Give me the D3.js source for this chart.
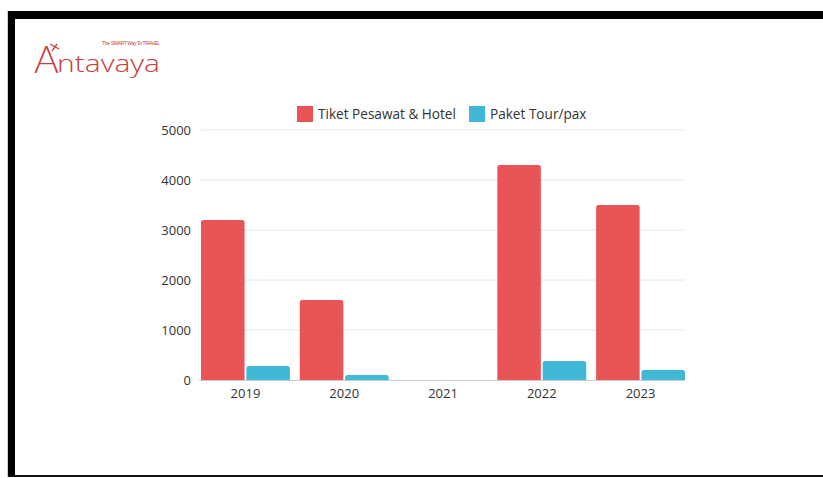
<!DOCTYPE html>
<html>
<head>
<meta charset="utf-8">
<script src="https://cdn.jsdelivr.net/npm/d3@7"></script>
<style>
  html, body { margin: 0; padding: 0; background: #fff; }
  svg { display: block; }
</style>
</head>
<body>
<svg id="chart" width="823" height="478"></svg>
<script>
const categories = ["2019", "2020", "2021", "2022", "2023"];
const seriesNames = ["Tiket Pesawat & Hotel", "Paket Tour/pax"];
const tiketPesawatHotel = [3200, 1600, 0, 4300, 3500];
const paketTour = [280, 100, 0, 380, 200];
const yTicks = [0, 1000, 2000, 3000, 4000, 5000];
const colors = ["#e95556", "#41b8d6"];

const svg = d3.select("#chart");

// frame
svg.append("rect").attr("x", 7).attr("y", 11).attr("width", 1).attr("height", 466).attr("fill", "#cfcfcf");
svg.append("rect").attr("x", 8).attr("y", 11).attr("width", 815).attr("height", 8).attr("fill", "#000");
svg.append("rect").attr("x", 8).attr("y", 11).attr("width", 7).attr("height", 466).attr("fill", "#000");
svg.append("rect").attr("x", 8).attr("y", 475).attr("width", 815).attr("height", 2).attr("fill", "#111");

// logo
const logo = svg.append("g");
logo.append("text").attr("x", 34).attr("y", 73)
  .attr("font-family", "Lato, 'Open Sans', sans-serif").attr("font-size", 38).attr("font-weight", 300)
  .attr("fill", "#c9403a").text("A");
logo.append("text").attr("x", 57).attr("y", 72)
  .attr("font-family", "'Open Sans', sans-serif").attr("font-size", 24).attr("font-weight", 300)
  .attr("fill", "#c9403a").attr("textLength", 103).attr("lengthAdjust", "spacingAndGlyphs").text("ntavaya");
logo.append("text").attr("x", 102).attr("y", 45)
  .attr("font-family", "'Liberation Sans Narrow', 'Liberation Sans', sans-serif").attr("font-size", 5)
  .attr("fill", "#c9403a").attr("textLength", 58).text("The SMART Way To TRAVEL");
// small plane mark near A
logo.append("path").attr("d", "M50,44 L59,49 M57,44 L52,51").attr("stroke", "#c9403a").attr("stroke-width", 1.3).attr("fill", "none");

const x0 = d3.scaleBand().domain(categories).range([201, 685]).paddingInner(0.1).paddingOuter(0);
const x1 = d3.scaleBand().domain(seriesNames).range([0, x0.bandwidth()]).paddingInner(0.04);
const y = d3.scaleLinear().domain([0, 5000]).range([380, 130]);

// gridlines
svg.append("g").selectAll("line").data(yTicks.filter(d => d > 0)).join("line")
  .attr("x1", 201).attr("x2", 685)
  .attr("y1", d => y(d)).attr("y2", d => y(d))
  .attr("stroke", "#e6e6e6").attr("stroke-width", 1);

// y labels
const yAxis = d3.axisLeft(y).tickValues(yTicks).tickSize(0).tickPadding(0).tickFormat(d3.format("d"));
const ya = svg.append("g").attr("transform", "translate(191,0)").call(yAxis);
ya.select(".domain").remove();
ya.selectAll("text").attr("font-family", "'Open Sans', sans-serif").attr("font-size", 13).attr("fill", "#333");

// bars
const seriesData = [tiketPesawatHotel, paketTour];
const r = 2.5;
function topRounded(xp, yp, w, h) {
  if (h <= 0) return "";
  const rr = Math.min(r, h, w / 2);
  return `M${xp},${yp + h} V${yp + rr} Q${xp},${yp} ${xp + rr},${yp} H${xp + w - rr} Q${xp + w},${yp} ${xp + w},${yp + rr} V${yp + h} Z`;
}
const groups = svg.append("g").selectAll("g").data(categories).join("g")
  .attr("transform", d => `translate(${x0(d)},0)`);
groups.selectAll("path").data((d, i) => seriesNames.map((s, j) => ({ s, v: seriesData[j][i], j })))
  .join("path")
  .attr("d", d => topRounded(x1(d.s), y(d.v), x1.bandwidth(), y(0) - y(d.v)))
  .attr("fill", d => colors[d.j]);

// baseline
svg.append("line").attr("x1", 199).attr("x2", 685).attr("y1", 380.5).attr("y2", 380.5)
  .attr("stroke", "#cccccc").attr("stroke-width", 1);

// x labels
const xAxis = d3.axisBottom(x0).tickSize(0).tickPadding(0);
const xa = svg.append("g").attr("transform", "translate(0,389)").call(xAxis);
xa.select(".domain").remove();
xa.selectAll("text").attr("font-family", "'Open Sans', sans-serif").attr("font-size", 13).attr("fill", "#333");

// legend
const legendX = [297, 469];
const lg = svg.append("g").selectAll("g").data(seriesNames).join("g")
  .attr("transform", (d, i) => `translate(${legendX[i]},106)`);
lg.append("rect").attr("width", 16).attr("height", 16).attr("fill", (d, i) => colors[i]);
lg.append("text").attr("x", 21).attr("y", 13).attr("font-family", "'Open Sans', sans-serif")
  .attr("font-size", 13.6).attr("fill", "#333").text(d => d);
</script>
</body>
</html>
